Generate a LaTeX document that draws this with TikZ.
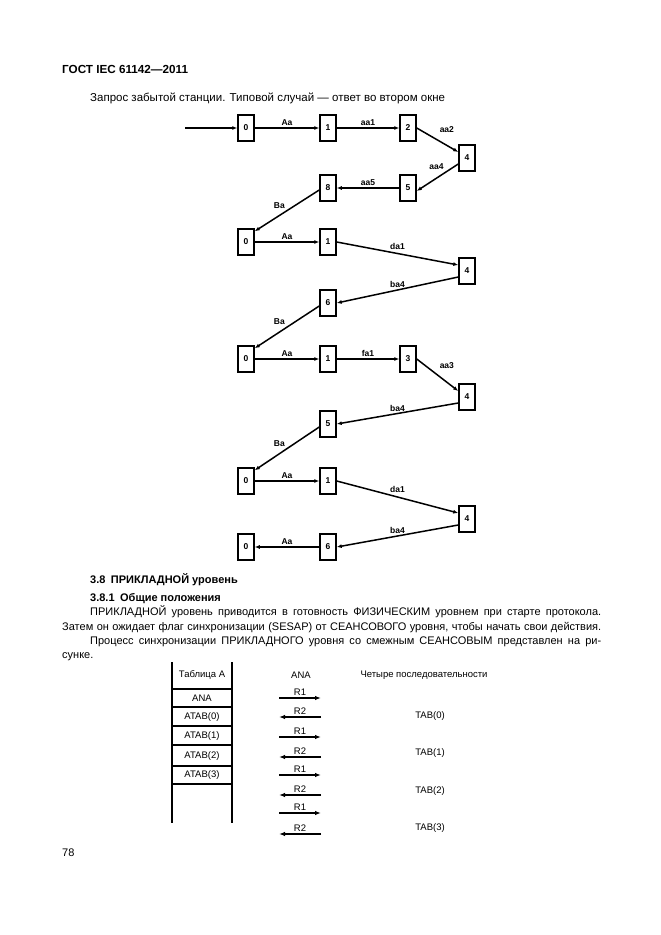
\documentclass[tikz,border=0pt]{standalone}
\usepackage{fontspec}
\setmainfont{Liberation Sans}
\usetikzlibrary{arrows.meta}
\begin{document}
\begin{tikzpicture}[x=1pt,y=-1pt,
  st/.style={draw,line width=1.5pt,minimum width=16pt,minimum height=26pt,inner sep=0pt,font=\fontsize{8.5}{9}\selectfont\bfseries},
  tr/.style={line width=1.5pt,-{Latex[length=5pt,width=4pt]}},
  lab/.style={font=\fontsize{8.5}{9}\selectfont\bfseries,inner sep=1.5pt},
  body/.style={anchor=base west,inner sep=0pt,font=\fontsize{11}{12}\selectfont},
  bhead/.style={anchor=base west,inner sep=0pt,font=\fontsize{11}{12}\selectfont\bfseries},
  tab/.style={inner sep=0pt,font=\fontsize{9.5}{10}\selectfont},
  msg/.style={line width=1.2pt,-{Latex[length=6pt,width=4.5pt]}},
  mlab/.style={font=\fontsize{9.5}{10}\selectfont,inner sep=1.5pt,above}]
\useasboundingbox[fill=white] (0,0) rectangle (661,935);

% header
\node[bhead,font=\fontsize{11.7}{13}\selectfont\bfseries] (hdr) at (62,73) {ГОСТ IEC 61142—2011};
\node[body,font=\fontsize{11.5}{13}\selectfont] (cap) at (90,101) {Запрос забытой станции. Типовой случай — ответ во втором окне};

% block 1
\coordinate (in) at (185,128);
\node[st] (a0) at (246,128) {0};
\node[st] (a1) at (328,128) {1};
\node[st] (a2) at (408,128) {2};
\node[st] (a4) at (467,158) {4};
\node[st] (a5) at (408,188) {5};
\node[st] (a8) at (328,188) {8};
\draw[tr] (in) -- (a0);
\draw[tr] (a0) -- node[lab,above]{Aa} (a1);
\draw[tr] (a1) -- node[lab,above]{aa1} (a2);
\draw[tr] (a2.east) -- node[lab,above right,pos=0.5,yshift=5pt]{aa2} ([yshift=6pt]a4.west);
\draw[tr] ([yshift=-6pt]a4.west) -- node[lab,above left,pos=0.3]{aa4} ([yshift=-3pt]a5.east);
\draw[tr] (a5) -- node[lab,above]{aa5} (a8);

% block 2
\node[st] (b0) at (246,242) {0};
\node[st] (b1) at (328,242) {1};
\node[st] (b4) at (467,271) {4};
\node[st] (b6) at (328,303) {6};
\draw[tr] ([yshift=-2pt]a8.west) -- node[lab,above left,pos=0.5]{Ba} ([yshift=-3pt]b0.north east);
\draw[tr] (b0) -- node[lab,above]{Aa} (b1);
\draw[tr] (b1.east) -- node[lab,above,pos=0.5,yshift=2pt]{da1} ([yshift=6pt]b4.west);
\draw[tr] ([yshift=-6pt]b4.west) -- node[lab,above,pos=0.5]{ba4} (b6.east);

% block 3
\node[st] (c0) at (246,359) {0};
\node[st] (c1) at (328,359) {1};
\node[st] (c3) at (408,359) {3};
\node[st] (c4) at (467,397) {4};
\node[st] (c5) at (328,424) {5};
\draw[tr] ([yshift=-3pt]b6.west) -- node[lab,above left,pos=0.5]{Ba} ([yshift=-3pt]c0.north east);
\draw[tr] (c0) -- node[lab,above]{Aa} (c1);
\draw[tr] (c1) -- node[lab,above]{fa1} (c3);
\draw[tr] (c3.east) -- node[lab,above right,pos=0.5,yshift=4pt]{aa3} ([yshift=6pt]c4.west);
\draw[tr] ([yshift=-6pt]c4.west) -- node[lab,above,pos=0.5]{ba4} (c5.east);

% block 4
\node[st] (d0) at (246,481) {0};
\node[st] (d1) at (328,481) {1};
\node[st] (d4) at (467,519) {4};
\node[st] (d6) at (328,547) {6};
\node[st] (d0b) at (246,547) {0};
\draw[tr] ([yshift=-3pt]c5.west) -- node[lab,above left,pos=0.5]{Ba} ([yshift=-3pt]d0.north east);
\draw[tr] (d0) -- node[lab,above]{Aa} (d1);
\draw[tr] (d1.east) -- node[lab,above,pos=0.5,yshift=2pt]{da1} ([yshift=6pt]d4.west);
\draw[tr] ([yshift=-6pt]d4.west) -- node[lab,above,pos=0.5]{ba4} (d6.east);
\draw[tr] (d6) -- node[lab,above]{Aa} (d0b);

% text section
\node[bhead] (s38) at (90,583) {3.8\hspace{0.5em}ПРИКЛАДНОЙ уровень};
\node[bhead] (s381) at (90,601) {3.8.1\hspace{0.5em}Общие положения};
\node[body] (p1) at (90,615) {\makebox[511pt][s]{ПРИКЛАДНОЙ уровень приводится в готовность ФИЗИЧЕСКИМ уровнем при старте протокола.}};
\node[body] (p2) at (62,630) {\makebox[539pt][s]{Затем он ожидает флаг синхронизации (SESAP) от СЕАНСОВОГО уровня, чтобы начать свои действия.}};
\node[body] (p3) at (90,644) {\makebox[511pt][s]{Процесс синхронизации ПРИКЛАДНОГО уровня со смежным СЕАНСОВЫМ представлен на ри-}};
\node[body] (p4) at (62,658) {сунке.};

% table
\draw[line width=1.2pt] (172,662) -- (172,823) (232,662) -- (232,823);
\foreach \yy in {689,707,726,745,766,784} \draw[line width=1.2pt] (172,\yy) -- (232,\yy);
\node[tab] (t0) at (202,675) {Таблица А};
\node[tab] (t1) at (202,698) {ANA};
\node[tab] (t2) at (202,717) {ATAB(0)};
\node[tab] (t3) at (202,736) {ATAB(1)};
\node[tab] (t4) at (202,756) {ATAB(2)};
\node[tab] (t5) at (202,775) {ATAB(3)};

\node[tab] (hana) at (301,675) {ANA};
\node[tab] (hseq) at (424,675) {Четыре последовательности};

\foreach \n/\yy in {1/698,3/737,5/775,7/813} {
  \coordinate (l\n) at (279,\yy); \coordinate (r\n) at (321,\yy);
  \draw[msg] (l\n) -- node[mlab]{R1} (r\n);
}
\foreach \n/\yy in {2/717,4/757,6/795,8/834} {
  \coordinate (l\n) at (279,\yy); \coordinate (r\n) at (321,\yy);
  \draw[msg] (r\n) -- node[mlab]{R2} (l\n);
}
\node[tab] (tab0) at (430,716) {TAB(0)};
\node[tab] (tab1) at (430,753) {TAB(1)};
\node[tab] (tab2) at (430,791) {TAB(2)};
\node[tab] (tab3) at (430,828) {TAB(3)};

\node[body] (pg) at (62,856) {78};
\end{tikzpicture}
\end{document}
